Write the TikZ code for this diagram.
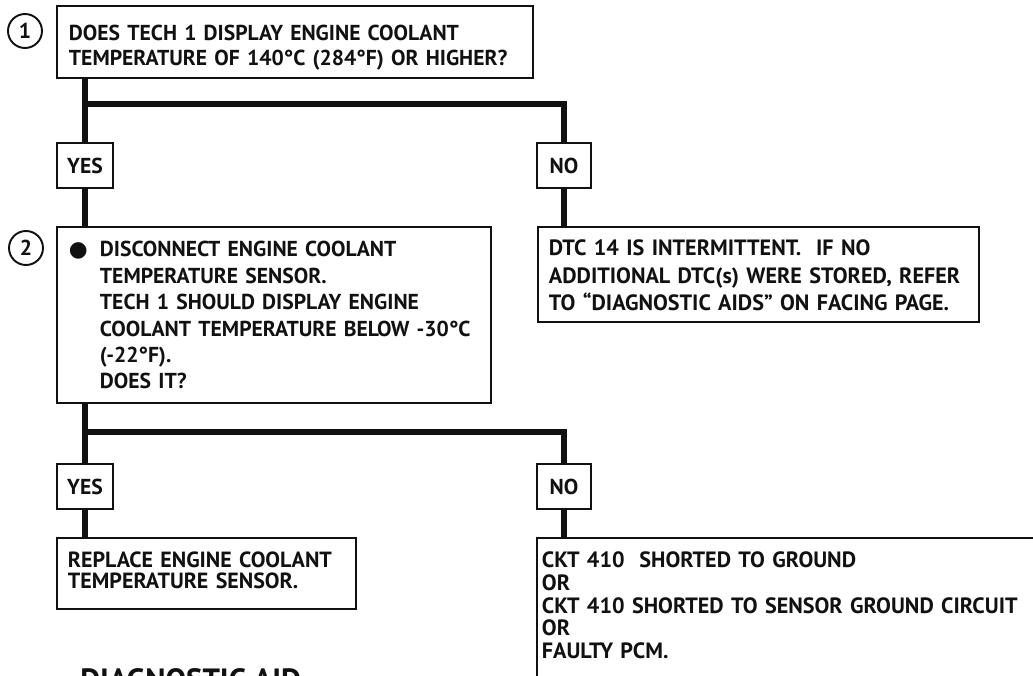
\documentclass[tikz,border=0pt]{standalone}
\usepackage{fontspec}
\setmainfont{PT Sans}
\newfontfamily\dgsym{DejaVu Sans}
\usepackage{xcolor}
\usepackage{tikz}
\definecolor{dgInk}{HTML}{111111}
\newcommand{\dgfont}[2][12.3pt]{\fontsize{#1}{#2}\selectfont\bfseries}
\tikzset{
  qbox/.style={rectangle,draw=dgInk,line width=1.1pt,
    anchor=north west,align=left,
    inner ysep=0pt,inner xsep=0.24cm,text=dgInk},
  ansbox/.style={rectangle,draw=dgInk,line width=1.1pt,
    minimum height=0.9cm,minimum width=1.08cm,inner xsep=0.2cm,
    font=\dgfont{14pt},text=dgInk},
  numcirc/.style={circle,draw=dgInk,line width=1.1pt,
    minimum size=0.68cm,inner sep=0pt,
    font=\dgfont{14pt},text=dgInk},
  flow/.style={line width=3.7pt,color=dgInk},
}

\begin{document}
\begin{tikzpicture}
  \useasboundingbox (0,0) rectangle (20.66,13.5);
  \clip (0,0) rectangle (20.66,13.5);

  % Step 1 -- coolant temperature reading
  \node[numcirc] (num1) at (0.50,12.88) {1};
  \node[qbox,text width=9.04cm,text height=0.70cm,text depth=0.74cm,
    font=\dgfont{13.7pt}] (q1) at (1.12,13.40)
    {DOES TECH 1 DISPLAY ENGINE COOLANT\\
     TEMPERATURE OF 140°C (284°F) OR HIGHER?};

  % answers to step 1
  \node[ansbox] (yes1) at (1.70,10.19) {YES};
  \node[ansbox] (no1) at (11.28,10.19) {NO};
  \coordinate (split1) at (1.70,11.42);
  \draw[flow] (q1.south -| yes1.north) -- (yes1.north);
  \draw[flow] (split1) -| (no1.north);

  % Step 2 -- sensor disconnected
  \node[numcirc] (num2) at (0.52,8.54) {2};
  \node[qbox,text width=8.20cm,text height=0.60cm,text depth=2.92cm,
    font=\dgfont{15pt}] (q2) at (1.12,8.98)
    {\makebox[0.62cm][l]{\dgsym ●}DISCONNECT ENGINE COOLANT\\
     \hspace*{0.62cm}TEMPERATURE SENSOR.\\
     \hspace*{0.62cm}TECH 1 SHOULD DISPLAY ENGINE\\
     \hspace*{0.62cm}COOLANT TEMPERATURE BELOW -30°C\\
     \hspace*{0.62cm}(-22°F).\\
     \hspace*{0.62cm}DOES IT?};
  \node[qbox,text width=8.38cm,inner xsep=0.22cm,
    text height=0.58cm,text depth=1.32cm,
    font={\dgfont[12.6pt]{15.4pt}}] (r1) at (10.74,8.98)
    {DTC 14 IS INTERMITTENT.\ \ IF NO\\
     ADDITIONAL DTC(s) WERE STORED, REFER\\
     TO “DIAGNOSTIC AIDS” ON FACING PAGE.};
  \draw[flow] (yes1.south) -- (yes1.south |- q2.north);
  \draw[flow] (no1.south) -- (no1.south |- r1.north);

  % answers to step 2
  \node[ansbox] (yes2) at (1.70,3.77) {YES};
  \node[ansbox] (no2) at (11.28,3.77) {NO};
  \coordinate (split2) at (1.70,4.86);
  \draw[flow] (q2.south -| yes2.north) -- (yes2.north);
  \draw[flow] (split2) -| (no2.north);

  \node[qbox,text width=5.54cm,inner xsep=0.22cm,
    text height=0.60cm,text depth=0.82cm,
    font={\dgfont[12.5pt]{11.9pt}}] (r2) at (1.12,2.76)
    {REPLACE ENGINE COOLANT\\
     TEMPERATURE SENSOR.};
  \node[qbox,text width=12cm,inner xsep=0.1cm,
    text height=0.60cm,text depth=4cm,
    font={\dgfont[12.6pt]{12.9pt}}] (r3) at (10.72,2.76)
    {CKT 410\ \ SHORTED TO GROUND\\
     OR\\
     CKT 410 SHORTED TO SENSOR GROUND CIRCUIT\\
     OR\\
     FAULTY PCM.};
  \draw[flow] (yes2.south) -- (yes2.south |- r2.north);
  \draw[flow] (no2.south) -- (no2.south |- r3.north);

  % heading below, cut by the page edge
  \node[anchor=north west,inner sep=0pt,text=dgInk,
    font=\fontsize{17.5pt}{20pt}\selectfont\bfseries] (aid) at (1.60,0.14)
    {DIAGNOSTIC AID};
\end{tikzpicture}
\end{document}
